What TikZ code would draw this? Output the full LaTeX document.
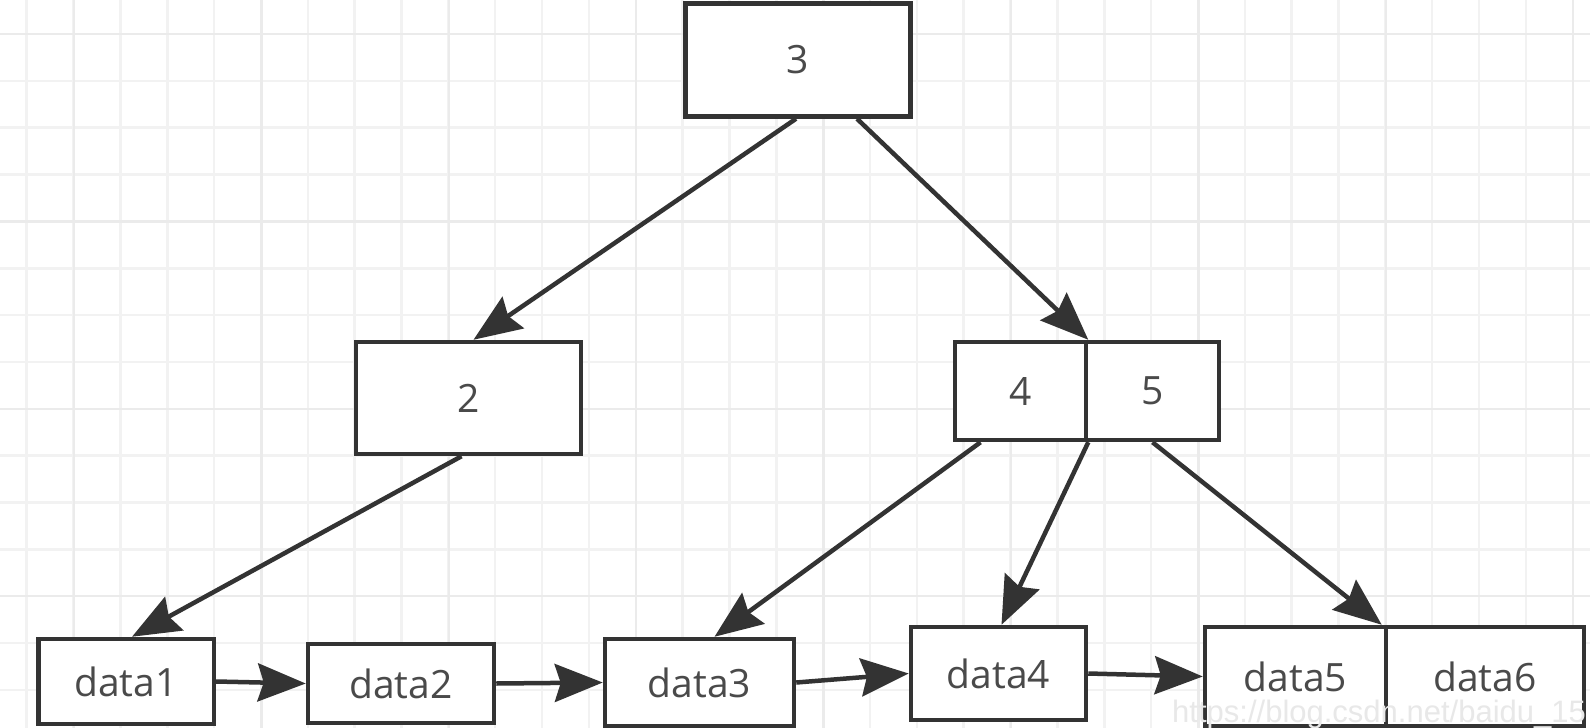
\documentclass[tikz,border=0pt]{standalone}
\usepackage{fontspec}
\setmainfont{Open Sans}
\newfontfamily\wmfont{Liberation Sans}
\usetikzlibrary{arrows.meta}
\definecolor{ink}{HTML}{333333}
\definecolor{txt}{HTML}{4A4A4A}
\definecolor{gminor}{HTML}{F2F2F2}
\definecolor{gmajor}{HTML}{EBEBEB}
\begin{document}
\begin{tikzpicture}[x=1pt,y=-1pt,
  box/.style={draw=ink,line width=4.5pt,fill=white,inner sep=0pt,text=txt,font=\fontsize{39}{44}\selectfont},
  link/.style={draw=ink,line width=4.5pt,-{Stealth[length=48pt,width=38pt,inset=6pt]}},
  gridminor/.style={draw=gminor,line width=2.5pt},
  gridmajor/.style={draw=gmajor,line width=2.5pt}]
\useasboundingbox (0,0) rectangle (1590,728);
\clip (0,0) rectangle (1590,728);
\fill[white] (0,0) rectangle (1590,728);
% grid
\foreach \i in {0,...,33} \draw[gridminor] ({26.7+46.85*\i},0) -- ({26.7+46.85*\i},728);
\foreach \j in {-1,...,15} \draw[gridminor] (0,{34+46.85*\j}) -- (1590,{34+46.85*\j});
\foreach \i in {0,...,8} \draw[gridmajor] ({74+187.4*\i},0) -- ({74+187.4*\i},728);
\foreach \j in {0,...,3} \draw[gridmajor] (0,{34+187.4*\j}) -- (1590,{34+187.4*\j});
% nodes
\node[box,minimum width=225pt,minimum height=113pt] (n3) at (798,60) {3};
\node[box,minimum width=225pt,minimum height=112pt] (n2) at (468.5,398) {2};
\node[box,minimum width=131pt,minimum height=98pt] (n4) at (1020.5,391) {4};
\node[box,minimum width=133pt,minimum height=98pt] (n5) at (1152.5,391) {5};
\node[box,minimum width=175.5pt,minimum height=85pt] (d1) at (126,681.5) {data1};
\node[box,minimum width=186pt,minimum height=79pt] (d2) at (401,683.5) {data2};
\node[box,minimum width=189pt,minimum height=87pt] (d3) at (699.5,682.5) {data3};
\node[box,minimum width=175pt,minimum height=93pt] (d4) at (998.5,673.5) {data4};
\node[box,minimum width=181pt,minimum height=99pt] (d5) at (1295.5,676.5) {data5};
\node[box,minimum width=198pt,minimum height=99pt] (d6) at (1485,676.5) {data6};
% connectors
\draw[link] ([xshift=-2pt]n3.south) -- ([xshift=5pt]n2.north);
\draw[link] ([xshift=59pt]n3.south) -- (n4.north east);
\draw[link] ([xshift=-7pt]n2.south) -- ([xshift=6pt]d1.north);
\draw[link] ([xshift=-40pt]n4.south) -- ([xshift=15pt]d3.north);
\draw[link] (n4.south east) -- ([xshift=3pt]d4.north);
\draw[link] (n5.south) -- ([xshift=-2pt]d6.north west);
\draw[link] (d1.east) -- (d2.west);
\draw[link] (d2.east) -- (d3.west);
\draw[link] (d3.east) -- (d4.west);
\draw[link] (d4.east) -- (d5.west);
% watermark
\node[anchor=base west,inner sep=0pt,text=black!9,font=\wmfont\fontsize{31}{33}\selectfont] (wm) at (1172,722) {https://blog.csdn.net/baidu\_15};
\end{tikzpicture}
\end{document}
